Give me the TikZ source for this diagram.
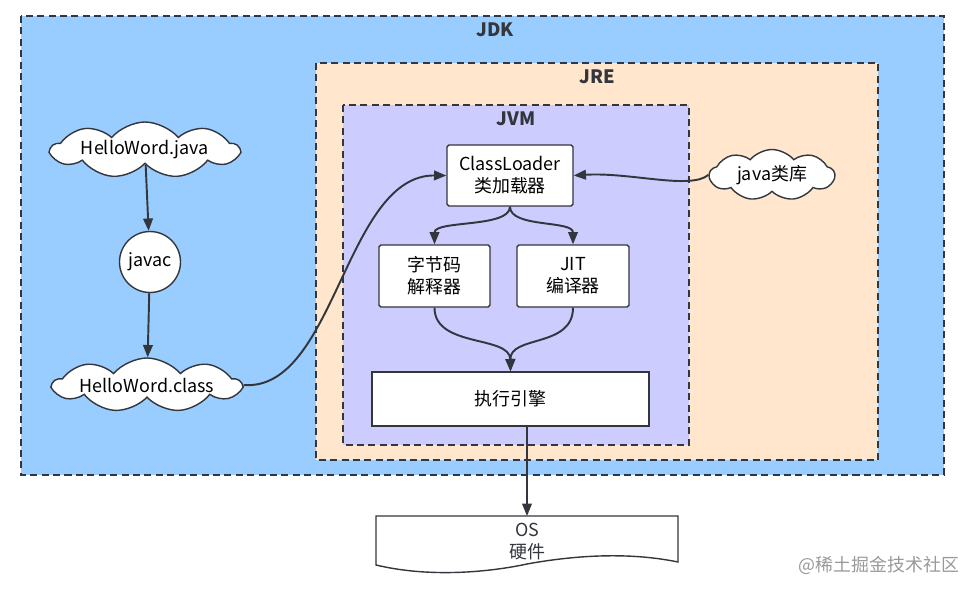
\documentclass[tikz,border=0pt]{standalone}
\usepackage{fontspec}
\setmainfont{Noto Sans CJK SC}
\usetikzlibrary{shapes.symbols,arrows.meta}

\definecolor{jdkblue}{HTML}{99CCFF}
\definecolor{jrepeach}{HTML}{FFE6CC}
\definecolor{jvmlilac}{HTML}{CCCCFF}
\definecolor{inkgray}{HTML}{33363D}

\begin{document}
\begin{tikzpicture}[x=0.02cm, y=-0.02cm,
    font=\fontsize{10.2}{12.5}\selectfont,
    zone/.style={draw=inkgray, line width=0.8pt, dash pattern=on 4pt off 2.5pt},
    zonelabel/.style={font=\fontsize{10.5}{12}\selectfont\bfseries, text=inkgray},
    box/.style={draw=inkgray, fill=white, line width=0.8pt, rounded corners=1pt,
        align=center, inner sep=0pt},
    puff/.style={cloud, cloud puffs=9, cloud puff arc=100, cloud ignores aspect,
        draw=inkgray, fill=white, line width=0.8pt, inner sep=0pt},
    arr/.style={draw=inkgray, line width=1.1pt, -{Triangle[length=7pt,width=5.5pt]}}]

    \useasboundingbox (0,0) rectangle (975,592);

    % containers
    \draw[zone, fill=jdkblue] (21,16) rectangle (944,475);
    \node[zonelabel] (jdklabel) at (495,30) {JDK};
    \draw[zone, fill=jrepeach] (316,63) rectangle (878,460);
    \node[zonelabel] (jrelabel) at (597,77) {JRE};
    \draw[zone, fill=jvmlilac] (343,105) rectangle (689,445);
    \node[zonelabel] (jvmlabel) at (516,119) {JVM};

    % compile side
    \node[puff, minimum width=3.75cm, minimum height=1.12cm] (hwjava) at (145,150) {HelloWord.java};
    \node[circle, draw=inkgray, fill=white, line width=0.8pt, minimum size=1.22cm,
        inner sep=0pt] (javac) at (150,262) {javac};
    \node[puff, minimum width=3.75cm, minimum height=1.08cm] (hwclass) at (147,385) {HelloWord.class};
    \node[puff, minimum width=2.5cm, minimum height=1.02cm] (javalib) at (772,175) {java类库};

    % jvm parts
    \node[box, minimum width=2.52cm, minimum height=1.22cm] (loader) at (510,175.5)
        {ClassLoader\\类加载器};
    \node[box, minimum width=2.22cm, minimum height=1.24cm] (interp) at (434.5,276)
        {字节码\\解释器};
    \node[box, minimum width=2.24cm, minimum height=1.24cm] (jit) at (573,276)
        {JIT\\编译器};
    \node[box, rounded corners=0pt, minimum width=5.54cm, minimum height=1.08cm]
        (engine) at (510.5,399) {执行引擎};

    % os / hardware
    \draw[draw=inkgray, fill=white, line width=0.8pt]
        (376,516) -- (678,516) -- (678,562)
        .. controls (620,550) and (560,558) .. (527,564)
        .. controls (490,572) and (430,578) .. (376,565) -- cycle;
    \coordinate (ostop) at (527,516);
    \node[align=center, text=inkgray, inner sep=0pt] (os) at (527,542) {OS\\硬件};

    \node[text=black!40] (mark) at (879,565) {@稀土掘金技术社区};

    % connectors
    \draw[arr] (hwjava) -- (javac);
    \draw[arr] (javac) -- (hwclass);
    \draw[arr] (hwclass.east) .. controls (335,392) and (345,175) .. (loader.west);
    \draw[arr] (javalib.west) .. controls (690,190) and (630,172) .. (loader.east);
    \draw[arr] (loader.south) .. controls (510,228) and (434.5,220) .. (interp.north);
    \draw[arr] (loader.south) .. controls (510,228) and (573,220) .. (jit.north);
    \draw[arr] (interp.south) .. controls (434.5,348) and (510,335) .. (engine.north);
    \draw[arr] (jit.south) .. controls (573,348) and (510,335) .. (engine.north);
    \draw[arr, line width=0.8pt] (engine.south -| ostop) -- (ostop);

\end{tikzpicture}
\end{document}
